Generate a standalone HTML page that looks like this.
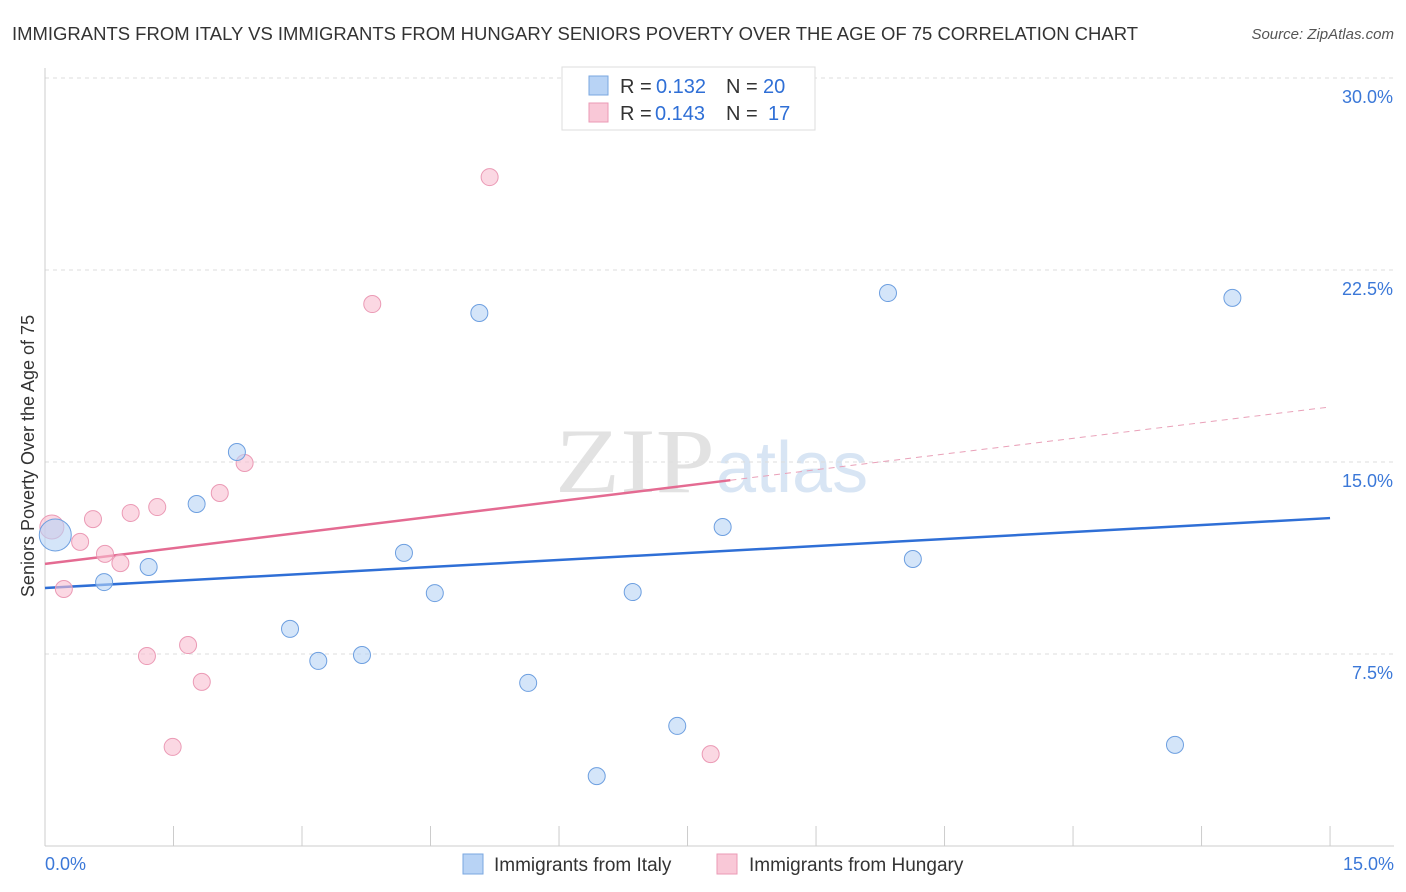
<!DOCTYPE html>
<html><head><meta charset="utf-8"><style>
body{margin:0;background:#fff;font-family:"Liberation Sans",sans-serif;}
svg{display:block}
</style></head><body>
<svg id="c" width="1406" height="892">
<text x="12" y="40" font-size="18" fill="#333" textLength="1126" lengthAdjust="spacingAndGlyphs">IMMIGRANTS FROM ITALY VS IMMIGRANTS FROM HUNGARY SENIORS POVERTY OVER THE AGE OF 75 CORRELATION CHART</text>
<text x="1394" y="39" font-size="15" fill="#555" font-style="italic" text-anchor="end">Source: ZipAtlas.com</text>
<text x="34" y="456" font-size="18" fill="#333" text-anchor="middle" transform="rotate(-90 34 456)">Seniors Poverty Over the Age of 75</text>
<text x="555" y="492" font-size="92" fill="#e2e2e2" textLength="160" lengthAdjust="spacingAndGlyphs" font-family="Liberation Serif,serif">ZIP</text>
<text x="716" y="492" font-size="72" fill="#d8e5f4">atlas</text>
<g id="grid"></g><g id="lines"></g><g id="pts"></g>
<g>
<rect x="562" y="67" width="253" height="63" fill="#fff" stroke="#ddd"/>
<rect x="589" y="76" width="19" height="19" fill="#b8d3f5" stroke="#7aa7e0"/>
<text x="620" y="93" font-size="20" fill="#333">R =</text>
<text x="656" y="93" font-size="20" fill="#2f6fd6">0.132</text>
<text x="726" y="93" font-size="20" fill="#333">N =</text>
<text x="763" y="93" font-size="20" fill="#2f6fd6">20</text>
<rect x="589" y="103" width="19" height="19" fill="#f9c8d7" stroke="#eb9ab5"/>
<text x="620" y="120" font-size="20" fill="#333">R =</text>
<text x="655" y="120" font-size="20" fill="#2f6fd6">0.143</text>
<text x="726" y="120" font-size="20" fill="#333">N =</text>
<text x="768" y="120" font-size="20" fill="#2f6fd6">17</text>
</g>
<g>
<rect x="463" y="854" width="20" height="20" fill="#b8d3f5" stroke="#7aa7e0"/>
<text x="494" y="871" font-size="19" fill="#333">Immigrants from Italy</text>
<rect x="717" y="854" width="20" height="20" fill="#f9c8d7" stroke="#eb9ab5"/>
<text x="749" y="871" font-size="19" fill="#333">Immigrants from Hungary</text>
</g>
</svg>
<script>
const italyX=[0.69,1.21,1.77,2.24,2.86,3.19,3.70,4.19,4.55,5.07,5.64,6.44,6.86,7.38,7.91,9.84,10.13,13.19,13.86,0.12];
const italyY=[10.31,10.90,13.36,15.39,8.48,7.23,7.46,11.45,9.88,20.82,6.37,2.73,9.92,4.69,12.46,21.60,11.21,3.95,21.41,12.15];
const hungX=[0.08,0.22,0.41,0.56,0.70,0.88,1.00,1.19,1.31,1.49,1.67,1.83,2.04,2.33,3.82,5.19,7.77];
const hungY=[12.46,10.04,11.88,12.77,11.41,11.05,13.01,7.42,13.24,3.87,7.85,6.41,13.79,14.96,21.17,26.13,3.59];
const italyTrend=[10.08,12.81];
const hungTrend=[11.02,17.15];
const yTicks=[7.5,15.0,22.5,30.0];
const xTicks=[0,1.5,3,4.5,6,7.5,9,10.5,12,13.5,15];
const NS='http://www.w3.org/2000/svg';
const sx=v=>45+v*85.67, sy=v=>846-v*25.6;
function mk(p,t,a){const e=document.createElementNS(NS,t);for(const k in a)e.setAttribute(k,a[k]);p.appendChild(e);return e;}
const g=document.getElementById('grid');
yTicks.forEach(t=>{
 const l=mk(g,'line',{x1:45,x2:1394,y1:sy(t),y2:sy(t),stroke:'#ddd','stroke-dasharray':'4,4'});
 
 
 const tx=mk(g,'text',{x:1393,y:sy(t)+25,'font-size':18,fill:'#3b78d8','text-anchor':'end'});
 tx.textContent=t.toFixed(1)+'%';
 
 
});
mk(g,'line',{x1:45,x2:45,y1:68,y2:846,stroke:'#ccc'});
mk(g,'line',{x1:45,x2:1394,y1:846,y2:846,stroke:'#ccc'});
xTicks.forEach(t=>{const l=mk(g,'line',{x1:sx(t),x2:sx(t),y1:826,y2:846,stroke:'#ccc'});
 
 });
[[0,'start',45],[15,'end',1394]].forEach(([v,a,x])=>{const tx=mk(g,'text',{x:x,y:870,'font-size':18,fill:'#3b78d8','text-anchor':a});tx.textContent=v.toFixed(1)+'%';
 
 });
const L=document.getElementById('lines');
const lerp=(tr,x)=>tr[0]+(tr[1]-tr[0])*x/15;
let b=mk(L,'line',{x1:sx(0),y1:sy(italyTrend[0]),x2:sx(15),y2:sy(italyTrend[1]),stroke:'#2f6fd6','stroke-width':2.5});


let p1=mk(L,'line',{x1:sx(0),y1:sy(hungTrend[0]),x2:sx(8),y2:sy(lerp(hungTrend,8)),stroke:'#e46b92','stroke-width':2.5});


let p2=mk(L,'line',{x1:sx(8),y1:sy(lerp(hungTrend,8)),x2:sx(15),y2:sy(hungTrend[1]),stroke:'#e9a0b8','stroke-width':1,'stroke-dasharray':'6,5'});


const P=document.getElementById('pts');
hungX.forEach((x,i)=>{const c=mk(P,'circle',{cx:sx(x),cy:sy(hungY[i]),r:i==0?12:8.5,fill:'rgba(248,190,208,0.6)',stroke:'#eb9ab5','stroke-width':1});
 
 });
italyX.forEach((x,i)=>{const c=mk(P,'circle',{cx:sx(x),cy:sy(italyY[i]),r:i==19?16:8.5,fill:'rgba(184,211,245,0.6)',stroke:'#6d9fe0','stroke-width':1});
 
 });
</script>
</body></html>
